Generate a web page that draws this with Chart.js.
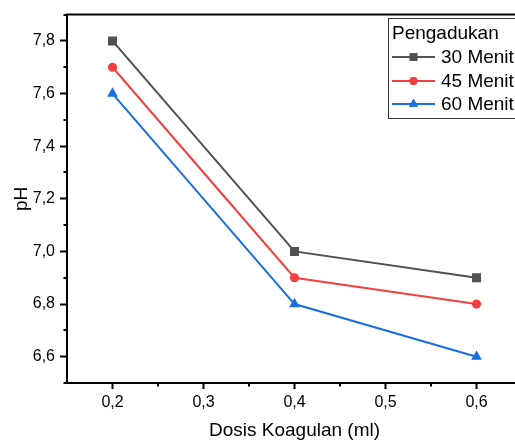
<!DOCTYPE html>
<html>
<head>
<meta charset="utf-8">
<script src="https://cdn.jsdelivr.net/npm/chart.js@4/dist/chart.umd.min.js"></script>
<style>
html,body{margin:0;padding:0;overflow:hidden;background:#fff;}
canvas{display:block;}
</style>
</head>
<body>
<canvas id="c" width="530" height="440" style="width:530px;height:440px"></canvas>
<script>
// ---- data ----
const categories = [0.2, 0.4, 0.6];
const series30 = [7.8, 7.0, 6.9];
const series45 = [7.7, 6.9, 6.8];
const series60 = [7.6, 6.8, 6.6];
const seriesNames = ['30 Menit', '45 Menit', '60 Menit'];
const legendTitle = 'Pengadukan';
const xTicks = [0.2, 0.3, 0.4, 0.5, 0.6];
const xMinorTicks = [0.25, 0.35, 0.45, 0.55];
const yTicks = [6.6, 6.8, 7.0, 7.2, 7.4, 7.6, 7.8];
const yMinorTicks = [6.5, 6.7, 6.9, 7.1, 7.3, 7.5, 7.7, 7.9];
const xTitle = 'Dosis Koagulan (ml)';
const yTitle = 'pH';

const colors = ['#515151', '#F14040', '#1A6FDF'];
const shapes = ['rect', 'circle', 'triangle'];
const radii = [6.4, 4.6, 6.2];

const fmt = v => v.toFixed(1).replace('.', ',');
const allSeries = [series30, series45, series60];

const datasets = allSeries.map((s, k) => ({
  label: seriesNames[k],
  data: categories.map((x, i) => ({x: x, y: s[i]})),
  showLine: true,
  borderColor: colors[k],
  backgroundColor: colors[k],
  borderWidth: 2,
  pointStyle: shapes[k],
  pointRadius: radii[k],
  pointHoverRadius: radii[k],
  pointBorderWidth: 0,
  pointBackgroundColor: colors[k],
  tension: 0
}));

const FONT = 'Arial, "Liberation Sans", sans-serif';

const framePlugin = {
  id: 'frame',
  afterDraw(chart) {
    const ctx = chart.ctx;
    const a = chart.chartArea;
    const xs = chart.scales.x, ys = chart.scales.y;
    ctx.save();
    ctx.strokeStyle = '#000';
    ctx.lineWidth = 2;
    ctx.beginPath();
    ctx.moveTo(a.left - 1, a.top);
    ctx.lineTo(a.right, a.top);
    ctx.lineTo(a.right, a.bottom);
    ctx.stroke();
    // minor ticks
    ctx.beginPath();
    xMinorTicks.forEach(v => {
      const px = Math.round(xs.getPixelForValue(v));
      ctx.moveTo(px, a.bottom);
      ctx.lineTo(px, a.bottom + 3.5);
    });
    yMinorTicks.forEach(v => {
      const py = Math.round(ys.getPixelForValue(v));
      ctx.moveTo(a.left, py);
      ctx.lineTo(a.left - 3.5, py);
    });
    ctx.stroke();

    // legend
    const bx = 388, by = 18, bw = 140, bh = 100;
    ctx.lineWidth = 1;
    ctx.strokeStyle = '#333';
    ctx.fillStyle = '#fff';
    ctx.fillRect(bx, by, bw, bh);
    ctx.strokeRect(bx + 0.5, by + 0.5, bw, bh);
    ctx.fillStyle = '#000';
    ctx.font = '19px ' + FONT;
    ctx.textBaseline = 'middle';
    ctx.textAlign = 'left';
    ctx.fillText(legendTitle, 392, 34);
    const rowY = [57, 81, 104];
    seriesNames.forEach((name, k) => {
      const y = rowY[k];
      ctx.strokeStyle = colors[k];
      ctx.lineWidth = 2;
      ctx.beginPath();
      ctx.moveTo(392, y);
      ctx.lineTo(435, y);
      ctx.stroke();
      ctx.fillStyle = colors[k];
      Chart.helpers.drawPoint(ctx, {pointStyle: shapes[k], radius: radii[k] * 0.85, borderWidth: 0, rotation: 0}, 413.5, y);
      ctx.fill();
      ctx.fillStyle = '#000';
      ctx.fillText(name, 441, y + 1);
    });
    ctx.restore();
  }
};

new Chart(document.getElementById('c'), {
  type: 'scatter',
  data: {datasets: datasets},
  options: {
    responsive: false,
    animation: false,
    devicePixelRatio: 1,
    layout: {padding: {left: 0, top: 13, right: 8, bottom: 0}},
    plugins: {legend: {display: false}, tooltip: {enabled: false}},
    scales: {
      x: {
        type: 'linear',
        min: 0.15, max: 0.65,
        afterBuildTicks: s => { s.ticks = xTicks.map(v => ({value: v})); },
        afterFit: s => { s.height = 57; },
        ticks: {
          callback: v => fmt(v),
          font: {family: FONT, size: 16},
          color: '#000',
          padding: 4,
          maxRotation: 0,
          autoSkip: false
        },
        grid: {drawOnChartArea: false, drawTicks: true, tickLength: 6, tickWidth: 2, tickColor: '#000'},
        border: {display: true, color: '#000', width: 2},
        title: {display: true, text: xTitle, font: {family: FONT, size: 19, lineHeight: 1}, color: '#000', padding: {top: 0, bottom: 0}}
      },
      y: {
        type: 'linear',
        min: 6.5, max: 7.9,
        afterBuildTicks: s => { s.ticks = yTicks.map(v => ({value: v})); },
        afterFit: s => { s.width = 67; },
        ticks: {
          callback: v => fmt(v),
          font: {family: FONT, size: 16},
          color: '#000',
          padding: 5,
          autoSkip: false
        },
        grid: {drawOnChartArea: false, drawTicks: true, tickLength: 7, tickWidth: 2, tickColor: '#000'},
        border: {display: true, color: '#000', width: 2},
        title: {display: true, text: yTitle, font: {family: FONT, size: 19, lineHeight: 1}, color: '#000', padding: {top: 12, bottom: 0}}
      }
    }
  },
  plugins: [framePlugin]
});
</script>
</body>
</html>
